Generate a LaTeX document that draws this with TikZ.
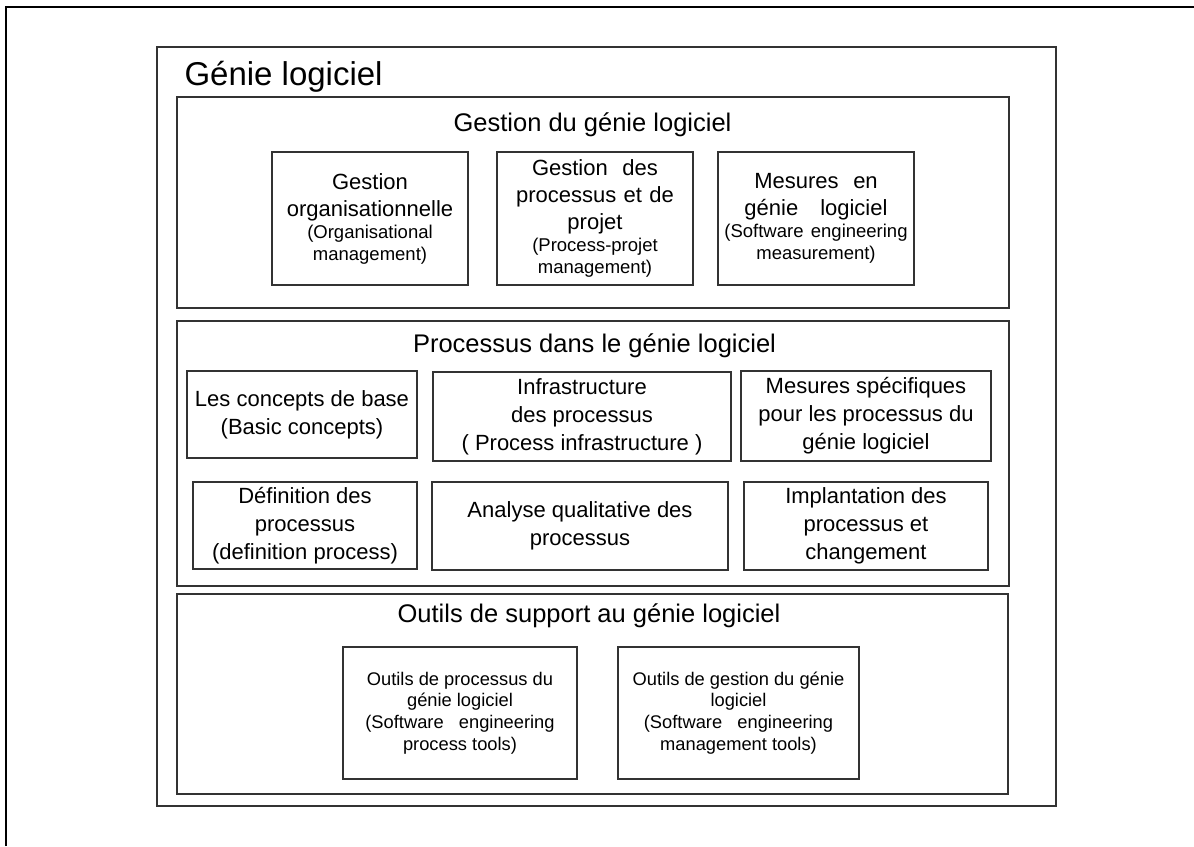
\documentclass[tikz,border=0pt]{standalone}
\usepackage{fontspec}
\setmainfont{Liberation Sans}
\newcommand{\engfont}{\fontsize{18.5}{22}\selectfont}

\begin{document}
\begin{tikzpicture}[x=1pt,y=-1pt,
        part box/.style={draw=black!80,line width=1.2pt,inner sep=0pt},
        sub box/.style={draw=black!80,line width=1.2pt,align=center,inner sep=3pt,
          text width=190pt,minimum height=133pt,font=\fontsize{22}{27}\selectfont},
        proc box/.style={draw=black!80,line width=1.2pt,align=center,inner sep=2pt,
          font=\fontsize{22}{28}\selectfont},
        tool box/.style={draw=black!80,line width=1.2pt,align=center,inner sep=2pt,
          minimum height=132pt,font=\fontsize{18.3}{21.7}\selectfont},
        part title/.style={anchor=base,font=\fontsize{25.5}{30}\selectfont}]

  \useasboundingbox (0,0) rectangle (1194,846);
  \draw[line width=2.3pt] (6,846) -- (6,7) -- (1194,7);

  \node[part box,minimum width=899pt,minimum height=759pt] (genie) at (606.5,426.5) {};
  \node[anchor=base west,font=\fontsize{33}{40}\selectfont] (genie title) at (181,85) {Génie logiciel};

  % gestion
  \node[part box,minimum width=832pt,minimum height=211pt] (gestion) at (593,202.5) {};
  \node[part title] (gestion title) at (592.5,131) {Gestion du génie logiciel};
  \node[sub box,minimum width=196pt] (orga) at (370,218.5)
    {Gestion\\organisationnelle\par\engfont(Organisational\\management)\par};
  \node[sub box,minimum width=196pt] (projet) at (595,218.5)
    {Gestion~ des\\processus et de\\projet\par\engfont(Process-projet\\management)\par};
  \node[sub box,minimum width=196pt] (mesures) at (816,218.5)
    {Mesures~ en\\génie~~ logiciel\par\engfont(Software engineering\\measurement)\par};

  % processus
  \node[part box,minimum width=832pt,minimum height=265pt] (processus) at (593,453.5) {};
  \node[part title] (processus title) at (594.5,352) {Processus dans le génie logiciel};
  \node[proc box,minimum width=230pt,minimum height=87pt] (concepts) at (302,414.5)
    {Les concepts de base\\(Basic concepts)};
  \node[proc box,minimum width=298pt,minimum height=89pt] (infra) at (582,416.5)
    {Infrastructure\\des processus\\( Process infrastructure )};
  \node[proc box,minimum width=250pt,minimum height=90pt] (specif) at (866,416)
    {Mesures spécifiques\\pour les processus du\\génie logiciel};
  \node[proc box,minimum width=224pt,minimum height=87pt] (definition) at (305,525.5)
    {Définition des\\processus\\(definition process)};
  \node[proc box,minimum width=296pt,minimum height=88pt] (analyse) at (580,526)
    {Analyse qualitative des\\processus};
  \node[proc box,minimum width=244pt,minimum height=88pt] (implant) at (866,526)
    {Implantation des\\processus et\\changement};

  % outils
  \node[part box,minimum width=831pt,minimum height=200pt] (outils) at (592.5,694) {};
  \node[part title] (outils title) at (589,622) {Outils de support au génie logiciel};
  \node[tool box,minimum width=234pt] (outils proc) at (460,713)
    {Outils de processus du\\génie logiciel\\(Software~~ engineering\\process tools)};
  \node[tool box,minimum width=241pt] (outils gest) at (738.5,713)
    {Outils de gestion du génie\\logiciel\\(Software~~ engineering\\management tools)};
\end{tikzpicture}
\end{document}
